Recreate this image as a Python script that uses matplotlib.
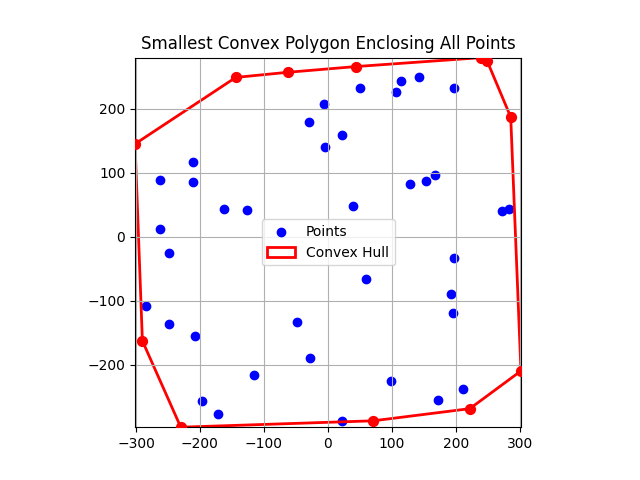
import matplotlib
matplotlib.use('Agg')
import matplotlib.pyplot as plt
from matplotlib.patches import Polygon

# puntos interiores
pts_x = [-211, -262, -211, -162, -126, -263, -30, -6, -4,
         50, 107, 115, 143, 197, 22, 129, 154, 167, 39, 273, 284,
         -248, -285, -248, -207, -49, -28, -115, -197, -172,
         197, 60, 193, 195, 99, 212, 172, 22]
pts_y = [116, 88, 85, 44, 41, 12, 180, 207, 140,
         233, 226, 244, 250, 233, 159, 82, 87, 96, 48, 40, 44,
         -26, -108, -137, -156, -134, -190, -216, -257, -278,
         -33, -66, -89, -119, -225, -239, -255, -288]

# vertices del casco convexo, en orden
hull_x = [-301.5, -144, -63, 44, 240, 249, 286, 302, 222, 71, -230, -290]
hull_y = [145, 249, 257, 266, 280, 275, 187, -210, -269, -288, -298, -163]

fig, ax = plt.subplots(figsize=(6.4, 4.8))
ax.scatter(pts_x + hull_x, pts_y + hull_y, color='blue', label='Points')

hull = Polygon(list(zip(hull_x, hull_y)), closed=True, fill=False,
               edgecolor='red', linewidth=2, label='Convex Hull')
ax.add_patch(hull)
ax.scatter(hull_x, hull_y, color='red', s=50, zorder=3)

ax.set_title('Smallest Convex Polygon Enclosing All Points')
ax.grid(True)
ax.legend(loc='center')
ax.margins(0)
ax.set_aspect('equal')

plt.savefig('out.png')
